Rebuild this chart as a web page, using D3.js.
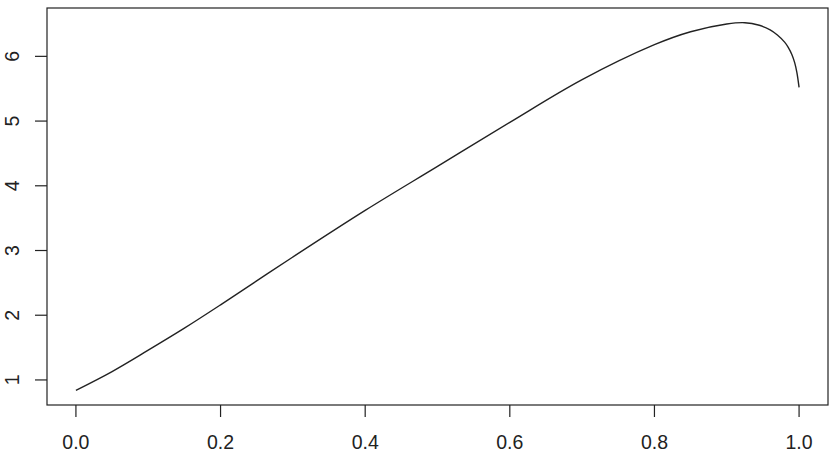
<!DOCTYPE html>
<html>
<head>
<meta charset="utf-8">
<script src="https://cdn.jsdelivr.net/npm/d3@7"></script>
<style>
  body { margin: 0; background: #fff; }
  text { font-family: "Liberation Sans", Arial, sans-serif; fill: #222; }
</style>
</head>
<body>
<svg id="chart" width="837" height="462"></svg>
<script>
    // curve
    var xs = [0, 0.05, 0.1, 0.15, 0.2, 0.3, 0.4, 0.5, 0.6, 0.7, 0.8, 0.85, 0.9, 0.925, 0.945, 0.96, 0.97, 0.98, 0.985, 0.99, 0.994, 0.997, 1.0];
    var ys = [0.84, 1.13, 1.46, 1.80, 2.16, 2.90, 3.62, 4.30, 4.98, 5.64, 6.18, 6.38, 6.50, 6.52, 6.48, 6.41, 6.33, 6.22, 6.14, 6.03, 5.90, 5.75, 5.52];
    var xTicks = [0, 0.2, 0.4, 0.6, 0.8, 1.0];
    var yTicks = [1, 2, 3, 4, 5, 6];

    var svg = d3.select("#chart");
    // plot box (window.top is read-only, so no "top" here)
    var boxL = 47, boxR = 828, boxT = 8, boxB = 405;

    // R style 4% padding on each side
    function padded(ext) {
        var d = (ext[1] - ext[0]) * 0.04;
        return [ext[0] - d, ext[1] + d];
    }
    var x = d3.scaleLinear().domain(padded(d3.extent(xs))).range([boxL, boxR]);
    var y = d3.scaleLinear().domain(padded(d3.extent(ys))).range([boxB, boxT]);

    var pts = xs.map(function (v, i) { return [v, ys[i]]; });

    svg.append("path")
        .datum(pts)
        .attr("fill", "none")
        .attr("stroke", "#222")
        .attr("stroke-width", 1.4)
        .attr("d", d3.line()
            .x(function (d) { return x(d[0]); })
            .y(function (d) { return y(d[1]); })
            .curve(d3.curveCatmullRom.alpha(0.5)));

    svg.append("rect")
        .attr("x", boxL).attr("y", boxT)
        .attr("width", boxR - boxL).attr("height", boxB - boxT)
        .attr("fill", "none").attr("stroke", "#222").attr("stroke-width", 1.2);

    var xAxis = svg.append("g").attr("transform", "translate(0," + boxB + ")");
    xAxis.selectAll("line").data(xTicks).enter().append("line")
        .attr("x1", function (d) { return x(d); }).attr("x2", function (d) { return x(d); })
        .attr("y1", 0).attr("y2", 12)
        .attr("stroke", "#222").attr("stroke-width", 1.2);
    xAxis.selectAll("text").data(xTicks).enter().append("text")
        .attr("x", function (d) { return x(d); })
        .attr("y", 44)
        .attr("text-anchor", "middle")
        .attr("font-size", "19.5px")
        .text(function (d) { return d3.format(".1f")(d); });

    var yAxis = svg.append("g");
    yAxis.selectAll("line").data(yTicks).enter().append("line")
        .attr("x1", boxL - 12).attr("x2", boxL)
        .attr("y1", function (d) { return y(d); }).attr("y2", function (d) { return y(d); })
        .attr("stroke", "#222").attr("stroke-width", 1.2);
    yAxis.selectAll("text").data(yTicks).enter().append("text")
        .attr("transform", function (d) { return "translate(19," + y(d) + ") rotate(-90)"; })
        .attr("text-anchor", "middle")
        .attr("font-size", "19.5px")
        .text(function (d) { return d; });
</script>
</body>
</html>
